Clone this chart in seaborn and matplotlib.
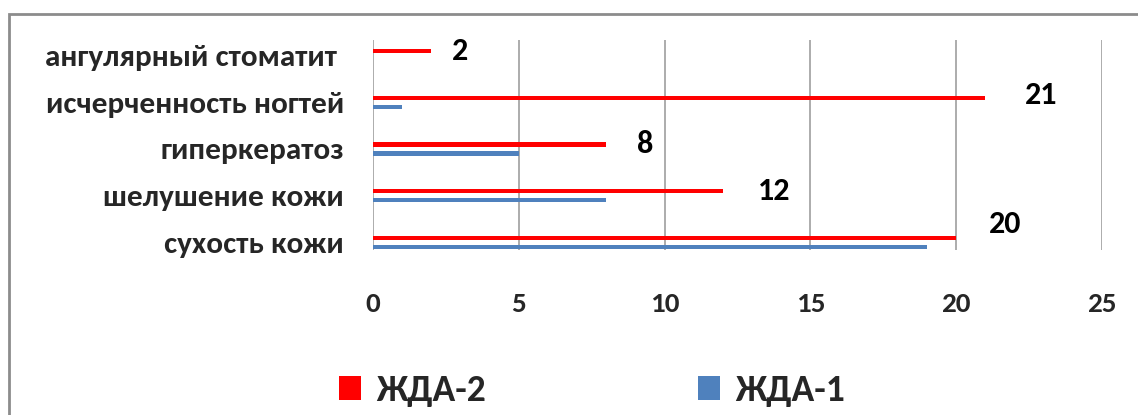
import matplotlib
matplotlib.use("Agg")
import matplotlib.pyplot as plt
from matplotlib.patches import Rectangle, Patch
import seaborn as sns
import pandas as pd

# Symptoms (top to bottom) and counts per patient group
symptoms = ["ангулярный стоматит ", "исчерченность ногтей", "гиперкератоз",
            "шелушение кожи", "сухость кожи"]
groups = ["ЖДА-2", "ЖДА-1"]
zda2 = [2, 21, 8, 12, 20]
zda1 = [0, 1, 5, 8, 19]
x_ticks = [0, 5, 10, 15, 20, 25]
colors = {"ЖДА-2": "#FF0000", "ЖДА-1": "#4F81BD"}

df = pd.DataFrame({
    "symptom": symptoms * 2,
    "group": [groups[0]] * len(symptoms) + [groups[1]] * len(symptoms),
    "count": zda2 + zda1,
})

sns.set_theme(style="white")
plt.rcParams["font.family"] = ["Carlito", "DejaVu Sans"]
plt.rcParams["font.weight"] = "bold"

fig = plt.figure(figsize=(11.38, 4.15), dpi=100)
ax = fig.add_axes([0.3278, 0.3976, 0.6406, 0.506])

sns.barplot(data=df, y="symptom", x="count", hue="group", order=symptoms,
            hue_order=groups, palette=colors, saturation=1, orient="h",
            width=0.385, gap=0.52, linewidth=0, ax=ax, legend=False)

ax.set_xlim(0, 25)
ax.set_ylim(4.16, -0.33)
ax.set_xticks(x_ticks)
ax.set_xticklabels([str(t) for t in x_ticks], fontsize=21, fontweight="bold")
ax.set_yticks(range(len(symptoms)))
ax.set_yticklabels(symptoms, fontsize=22.5, fontweight="bold")
ax.tick_params(axis="x", length=0, pad=30)
ax.tick_params(axis="y", length=0, pad=21)
ax.set_xlabel("")
ax.set_ylabel("")
for s in ax.spines.values():
    s.set_visible(False)
ax.grid(axis="x", color="#A6A6A6", linewidth=1.3)
ax.grid(axis="y", visible=False)
ax.set_axisbelow(True)

# Value labels for the ЖДА-2 series
label_dx = [21, 40, 28, 37, 35]
label_dy = [0, 2, 0, 0, 10]
for bar, val, dx, dy in zip(ax.containers[0], zda2, label_dx, label_dy):
    yc = bar.get_y() + bar.get_height() / 2
    ax.annotate(str(val), xy=(val, yc), xytext=(dx, dy), textcoords="offset points",
                ha="center", va="center", fontsize=23, fontweight="bold",
                color="black", annotation_clip=False)

handles = [Patch(facecolor=colors[g], edgecolor="none", label=g) for g in groups]
fig.legend(handles=handles, loc="center", bbox_to_anchor=(0.520, 0.058), ncol=2,
           frameon=False, handlelength=0.6, handleheight=0.6, handletextpad=0.4,
           columnspacing=5.65,
           prop={"family": ["Carlito", "DejaVu Sans"], "size": 27, "weight": "bold"})

# Chart-area frame
fig.patches.append(Rectangle((0.0075, -0.05), 1.1, 1.0163, transform=fig.transFigure,
                             fill=False, edgecolor="#8C8C8C", linewidth=2, zorder=0))

fig.savefig("out.png", dpi=100)
